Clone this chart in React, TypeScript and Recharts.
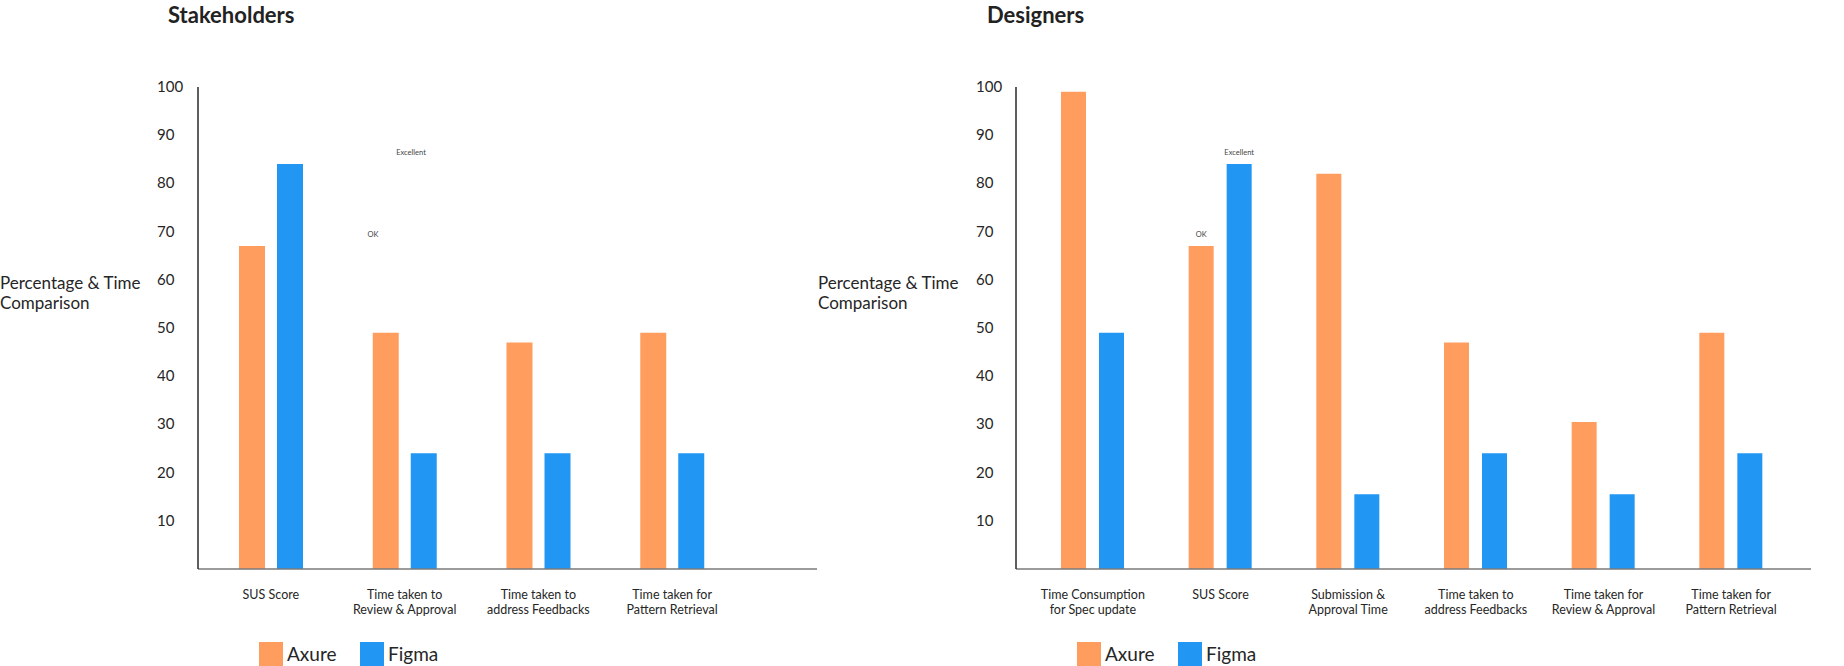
import { BarChart, Bar, XAxis, YAxis, LabelList } from "recharts";

// Stakeholders
const stakeholderCategories = [
  "SUS Score",
  "Time taken to\nReview & Approval",
  "Time taken to\naddress Feedbacks",
  "Time taken for\nPattern Retrieval",
];
const stakeholderAxure = [67, 49, 47, 49];
const stakeholderFigma = [84, 24, 24, 24];
const stakeholderAxureNotes = ["OK", "", "", ""];
const stakeholderFigmaNotes = ["Excellent", "", "", ""];

// Designers
const designerCategories = [
  "Time Consumption\nfor Spec update",
  "SUS Score",
  "Submission &\nApproval Time",
  "Time taken to\naddress Feedbacks",
  "Time taken for\nReview & Approval",
  "Time taken for\nPattern Retrieval",
];
const designerAxure = [99, 67, 82, 47, 30.5, 49];
const designerFigma = [49, 84, 15.5, 24, 15.5, 24];
const designerAxureNotes = ["", "OK", "", "", "", ""];
const designerFigmaNotes = ["", "Excellent", "", "", "", ""];

const yTicks = [10, 20, 30, 40, 50, 60, 70, 80, 90, 100];
const seriesNames = ["Axure", "Figma"];
const seriesColors = ["#FF9D5E", "#2196F3"];

const FONT = "Lato, 'Open Sans', sans-serif";
const TEXT = "#262626";

const buildRows = (cats, axure, figma, axureNotes, figmaNotes) =>
  cats.map((name, i) => ({
    name,
    axure: axure[i],
    figma: figma[i],
    axureNote: axureNotes[i],
    figmaNote: figmaNotes[i],
  }));

const CategoryTick = (props) => {
  const { x, y, payload } = props;
  const lines = String(payload.value).split("\n");
  return (
    <text x={x} y={y + 30} textAnchor="middle" fill={TEXT} fontSize={12.5} fontFamily={FONT}>
      {lines.map((l, i) => (
        <tspan key={i} x={x} dy={i === 0 ? 0 : 15}>
          {l}
        </tspan>
      ))}
    </text>
  );
};

const makeValueTick = (shift) => (props) => {
  const { x, y, payload } = props;
  return (
    <text x={x - shift} y={y + 5} textAnchor="start" fill={TEXT} fontSize={15} fontFamily={FONT}>
      {payload.value}
    </text>
  );
};

const makeNote = (shift) => (props) => {
  const { x, y, width, value } = props;
  if (!value) return null;
  return (
    <text
      x={x + width / 2 + shift}
      y={y - 9}
      textAnchor="middle"
      fill="#444"
      fontSize={7.5}
      fontFamily={FONT}
    >
      {value}
    </text>
  );
};

const Legend = ({ left }) => (
  <div style={{ position: "absolute", left, top: 642, display: "flex", fontFamily: FONT }}>
    {seriesNames.map((n, i) => (
      <div key={n} style={{ width: 101, display: "flex", alignItems: "center" }}>
        <div style={{ width: 24, height: 24, background: seriesColors[i] }} />
        <span style={{ marginLeft: 4, fontSize: 19, color: TEXT, lineHeight: "24px" }}>{n}</span>
      </div>
    ))}
  </div>
);

const Panel = ({ left, title, titleX, labelX, rows, yAxisWidth, marginLeft, marginRight, barSize, barGap, padding, noteShift }) => (
  <div style={{ position: "absolute", left, top: 0, width: 922, height: 666 }}>
    <div
      style={{
        position: "absolute",
        left: titleX,
        top: 0,
        fontFamily: FONT,
        fontWeight: 700,
        fontSize: 22,
        lineHeight: "30px",
        color: "#222",
      }}
    >
      {title}
    </div>
    <div
      style={{
        position: "absolute",
        left: labelX,
        top: 273,
        fontFamily: FONT,
        fontSize: 17,
        lineHeight: "20px",
        color: TEXT,
        whiteSpace: "nowrap",
      }}
    >
      Percentage &amp; Time
      <br />
      Comparison
    </div>
    <BarChart
      width={922}
      height={666}
      data={rows}
      barSize={barSize}
      barGap={barGap}
      margin={{ top: 87, right: marginRight, left: marginLeft, bottom: 57 }}
    >
      <XAxis
        dataKey="name"
        height={40}
        interval={0}
        padding={padding}
        tickLine={false}
        tickSize={0}
        tickMargin={0}
        axisLine={{ stroke: "#7a7a7a", strokeWidth: 1.5 }}
        tick={CategoryTick}
      />
      <YAxis
        width={yAxisWidth}
        domain={[0, 100]}
        ticks={yTicks}
        tickLine={false}
        tickSize={0}
        tickMargin={0}
        axisLine={{ stroke: "#2a2a2a", strokeWidth: 1.5 }}
        tick={makeValueTick(yAxisWidth)}
      />
      <Bar dataKey="axure" name={seriesNames[0]} fill={seriesColors[0]} isAnimationActive={false}>
        <LabelList dataKey="axureNote" content={makeNote(noteShift)} />
      </Bar>
      <Bar dataKey="figma" name={seriesNames[1]} fill={seriesColors[1]} isAnimationActive={false}>
        <LabelList dataKey="figmaNote" content={makeNote(noteShift)} />
      </Bar>
    </BarChart>
  </div>
);

const App = () => {
  const stakeholderRows = buildRows(
    stakeholderCategories,
    stakeholderAxure,
    stakeholderFigma,
    stakeholderAxureNotes,
    stakeholderFigmaNotes
  );
  const designerRows = buildRows(
    designerCategories,
    designerAxure,
    designerFigma,
    designerAxureNotes,
    designerFigmaNotes
  );
  return (
    <div style={{ position: "absolute", left: 0, top: 0, width: 1844, height: 666, background: "#fff" }}>
      <Panel
        left={0}
        title="Stakeholders"
        titleX={168}
        labelX={0}
        rows={stakeholderRows}
        yAxisWidth={41}
        marginLeft={157}
        marginRight={105}
        barSize={26}
        barGap={12}
        padding={{ left: 6, right: 78 }}
        noteShift={121}
      />
      <Legend left={259} />
      <Panel
        left={922}
        title="Designers"
        titleX={65}
        labelX={-104}
        rows={designerRows}
        yAxisWidth={40}
        marginLeft={54}
        marginRight={33}
        barSize={25}
        barGap={13}
        padding={{ left: 13, right: 16 }}
        noteShift={0}
      />
      <Legend left={1077} />
    </div>
  );
};

export default App;
